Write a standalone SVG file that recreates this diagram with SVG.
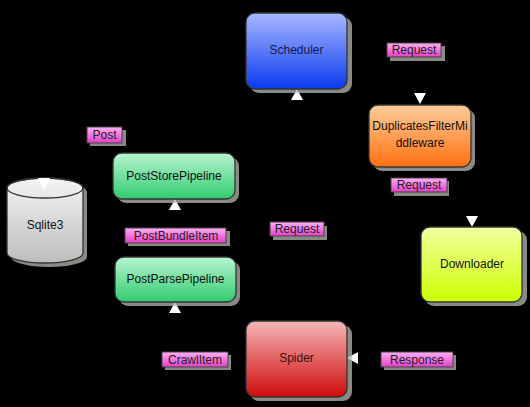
<svg xmlns="http://www.w3.org/2000/svg" width="530" height="407" viewBox="0 0 530 407">
<defs>
<linearGradient id="gBlue" x1="0" y1="0" x2="0" y2="1"><stop offset="0" stop-color="#a8b8ff"/><stop offset="1" stop-color="#0a3af0"/></linearGradient>
<linearGradient id="gOrange" x1="0" y1="0" x2="0" y2="1"><stop offset="0" stop-color="#ffcc99"/><stop offset="1" stop-color="#ff7010"/></linearGradient>
<linearGradient id="gYellow" x1="0" y1="0" x2="0" y2="1"><stop offset="0" stop-color="#f2ffa0"/><stop offset="1" stop-color="#ccff00"/></linearGradient>
<linearGradient id="gRed" x1="0" y1="0" x2="0" y2="1"><stop offset="0" stop-color="#f4b8b8"/><stop offset="1" stop-color="#d00a0a"/></linearGradient>
<linearGradient id="gGreen" x1="0" y1="0" x2="0" y2="1"><stop offset="0" stop-color="#b8f5d0"/><stop offset="1" stop-color="#30cc70"/></linearGradient>
<linearGradient id="gGray" x1="0" y1="0" x2="0" y2="1"><stop offset="0" stop-color="#f4f4f4"/><stop offset="1" stop-color="#bdbdbd"/></linearGradient>
<linearGradient id="gPink" x1="0" y1="0" x2="0" y2="1"><stop offset="0" stop-color="#ffb0f4"/><stop offset="1" stop-color="#e63cc8"/></linearGradient>
</defs>
<style>
.shadow{fill:#b8b8b0;opacity:0.75}
.box{stroke:#333;stroke-width:1.3}
.t{font-family:"Liberation Sans",Arial,sans-serif;font-size:12px;fill:#111;text-anchor:middle;dominant-baseline:central}
.lbl{stroke:#444;stroke-width:1}
.lt{font-family:"Liberation Sans",Arial,sans-serif;font-size:12px;fill:#222;text-anchor:middle;dominant-baseline:central}
.line{fill:none;stroke:#000;stroke-width:1}
.arr{fill:#fff}
</style>
<rect width="530" height="407" fill="#000"/>
<g id="connectors">
<path class="line" d="M347,49 H420 V105"/>
<path class="line" d="M420,167 V205 H472 V227"/>
<path class="line" d="M471,302 V358 H347"/>
<path class="line" d="M297,321 V89"/>
<path class="line" d="M246,358 H175 V302"/>
<path class="line" d="M175,257 V199"/>
<path class="line" d="M175,153 V133 H44 V178"/>
<polygon class="arr" points="297,89 291,100 303,100"/>
<polygon class="arr" points="420,104 414,93 426,93"/>
<polygon class="arr" points="472,227 466,216 478,216"/>
<polygon class="arr" points="347,358 358,352 358,364"/>
<polygon class="arr" points="175,302 169,313 181,313"/>
<polygon class="arr" points="175,199 169,210 181,210"/>
<g id="lbl-req1"><rect class="shadow" x="390" y="46" width="55" height="15"/><rect class="lbl" x="387" y="43" width="54" height="14" fill="url(#gPink)"/><text class="lt" x="414" y="50">Request</text></g>
<g id="lbl-req2"><rect class="shadow" x="394" y="181" width="55" height="15"/><rect class="lbl" x="391" y="178" width="56" height="14" fill="url(#gPink)"/><text class="lt" x="419" y="185">Request</text></g>
<g id="lbl-req3"><rect class="shadow" x="273" y="226" width="54" height="14"/><rect class="lbl" x="270" y="222" width="54" height="14" fill="url(#gPink)"/><text class="lt" x="297" y="229">Request</text></g>
<g id="lbl-resp"><rect class="shadow" x="384" y="355" width="72" height="15"/><rect class="lbl" x="381" y="352" width="72" height="15" fill="url(#gPink)"/><text class="lt" x="417" y="359.5">Response</text></g>
<g id="lbl-crawl"><rect class="shadow" x="165" y="355" width="66" height="15"/><rect class="lbl" x="162" y="352" width="66" height="15" fill="url(#gPink)"/><text class="lt" x="195" y="359.5">CrawlItem</text></g>
<g id="lbl-bundle"><rect class="shadow" x="128" y="231" width="102" height="15"/><rect class="lbl" x="125" y="228" width="101" height="15" fill="url(#gPink)"/><text class="lt" x="176" y="235.5">PostBundleItem</text></g>
<g id="lbl-post"><rect class="shadow" x="90" y="130" width="36" height="16"/><rect class="lbl" x="87" y="127" width="35" height="16" fill="url(#gPink)"/><text class="lt" x="104.5" y="135">Post</text></g>
</g>
<g id="scheduler"><rect class="shadow" x="250" y="17" width="102" height="76" rx="9"/><rect class="box" x="246" y="13" width="101" height="76" rx="9" fill="url(#gBlue)"/><text class="t" x="296.5" y="50" style="fill:#141a4a">Scheduler</text></g>
<g id="dupfilter"><rect class="shadow" x="373" y="109" width="102" height="62" rx="9"/><rect class="box" x="369" y="105" width="102" height="62" rx="9" fill="url(#gOrange)"/><text class="t" x="420" y="126">DuplicatesFilterMi</text><text class="t" x="420" y="143">ddleware</text></g>
<g id="downloader"><rect class="shadow" x="425" y="231" width="102" height="75" rx="9"/><rect class="box" x="421" y="227" width="101" height="75" rx="9" fill="url(#gYellow)"/><text class="t" x="472" y="264">Downloader</text></g>
<g id="spider"><rect class="shadow" x="250" y="325" width="102" height="76" rx="9"/><rect class="box" x="246" y="321" width="101" height="76" rx="9" fill="url(#gRed)"/><text class="t" x="296.5" y="358" style="fill:#3a1010">Spider</text></g>
<g id="poststore"><rect class="shadow" x="117" y="157" width="122" height="46" rx="9"/><rect class="box" x="113" y="153" width="122" height="46" rx="9" fill="url(#gGreen)"/><text class="t" x="174" y="176">PostStorePipeline</text></g>
<g id="postparse"><rect class="shadow" x="119" y="261" width="121" height="45" rx="9"/><rect class="box" x="115" y="257" width="121" height="45" rx="9" fill="url(#gGreen)"/><text class="t" x="175.5" y="279">PostParsePipeline</text></g>
<g id="sqlite"><path class="shadow" d="M11,192 A38,10 0 0 1 87,192 V257 A38,10 0 0 1 11,257 Z"/><path class="box" d="M7,188 A38,10 0 0 1 83,188 V253 A38,10 0 0 1 7,253 Z" fill="url(#gGray)"/><ellipse cx="45" cy="188" rx="38" ry="10" fill="none" stroke="#333" stroke-width="1.3"/><polygon class="arr" points="44,190 38,178 50,178"/><text class="t" x="45" y="225">Sqlite3</text></g>
</svg>
